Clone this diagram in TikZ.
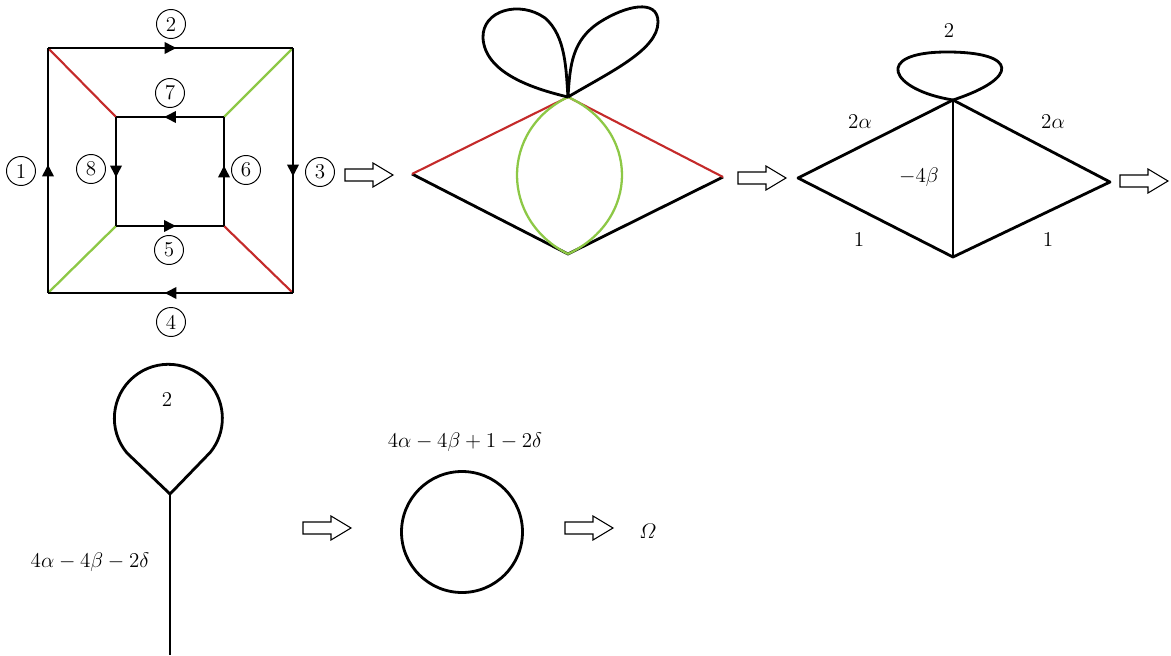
\documentclass[tikz,border=0pt]{standalone}
\usepackage{amsmath,amssymb}
\usepackage{xcolor}
\usetikzlibrary{arrows.meta, decorations.markings}

\definecolor{edgered}{RGB}{196,42,42}
\definecolor{edgegreen}{RGB}{141,200,70}

\tikzset{
  edge/.style={line width=1.6pt, line join=round},
  redge/.style={line width=1.2pt, edgered},
  gedge/.style={line width=1.3pt, edgegreen},
  midarrow/.style={postaction={decorate}, decoration={markings,
    mark=at position 0.5 with {\arrow[xshift=3.4pt]{Triangle[length=6.8pt,width=6.4pt]}}}},
  num/.style={circle, draw, line width=0.55pt, minimum size=16.5pt, inner sep=0pt, font=\large},
  lab/.style={font=\large},
  hollowarr/.pic={\draw[line width=0.6pt] (0,-6) -- (28,-6) -- (28,-12) -- (48,0) -- (28,12) -- (28,6) -- (0,6) -- cycle;}
}

\begin{document}
\begin{tikzpicture}[x=0.02cm, y=-0.02cm]
    \useasboundingbox (0,0) rectangle (1171,656);

    % Square with its inner square
    \coordinate (oTL) at (48,48);
    \coordinate (oTR) at (293,48);
    \coordinate (oBR) at (293,293);
    \coordinate (oBL) at (48,293);
    \coordinate (iTL) at (116,117);
    \coordinate (iTR) at (224,117);
    \coordinate (iBR) at (224,226);
    \coordinate (iBL) at (116,226);

    \draw[redge] (oTL) -- (iTL);
    \draw[redge] (oBR) -- (iBR);
    \draw[gedge] (oTR) -- (iTR);
    \draw[gedge] (oBL) -- (iBL);

    \draw[edge, midarrow] (oBL) -- (oTL);
    \draw[edge, midarrow] (oTL) -- (oTR);
    \draw[edge, midarrow] (oTR) -- (oBR);
    \draw[edge, midarrow] (oBR) -- (oBL);

    \draw[edge, midarrow] (iTR) -- (iTL);
    \draw[edge, midarrow] (iTL) -- (iBL);
    \draw[edge, midarrow] (iBL) -- (iBR);
    \draw[edge, midarrow] (iBR) -- (iTR);

    \node[num] (n1) at (21,171) {1};
    \node[num] (n2) at (171,24) {2};
    \node[num] (n3) at (320,172) {3};
    \node[num] (n4) at (171,322) {4};
    \node[num] (n5) at (169,250) {5};
    \node[num] (n6) at (246,170) {6};
    \node[num] (n7) at (170,93) {7};
    \node[num] (n8) at (91,169) {8};

    % Diamond with lens and two petals
    \coordinate (dL) at (412,174);
    \coordinate (dT) at (568,97);
    \coordinate (dR) at (723,177);
    \coordinate (dB) at (568,254);

    \draw[edge] (dL) -- (dB) -- (dR);
    \draw[redge] (dL) -- (dT) -- (dR);
    \draw[gedge] (dT) .. controls (500,130) and (500,220) .. (dB);
    \draw[gedge] (dT) .. controls (640,130) and (640,220) .. (dB);
    \draw[edge] (dT) .. controls (530,88) and (485,72) .. (483,38)
        .. controls (482,10) and (520,0) .. (545,18)
        .. controls (566,36) and (566,70) .. (dT);
    \draw[edge] (dT) .. controls (570,65) and (572,40) .. (600,22)
        .. controls (625,6) and (658,-2) .. (658,22)
        .. controls (658,50) and (610,72) .. (dT);

    % Diamond split in two, with one loop
    \coordinate (kL) at (798,178);
    \coordinate (kT) at (953,100);
    \coordinate (kR) at (1110,182);
    \coordinate (kB) at (953,257);

    \draw[edge] (kL) -- (kT) -- (kR) -- (kB) -- cycle;
    \draw[edge] (kT) -- (kB);
    \draw[edge] (kT) .. controls (890,90) and (872,52) .. (947,52)
        .. controls (1018,52) and (1020,78) .. (kT);

    \node[lab] (k2) at (949,31) {$2$};
    \node[lab] (ka) at (860,122) {$2\alpha$};
    \node[lab] (kb) at (1053,122) {$2\alpha$};
    \node[lab] (kc) at (919,177) {$-4\beta$};
    \node[lab] (kd) at (859,240) {$1$};
    \node[lab] (ke) at (1048,240) {$1$};

    % Lollipop
    \coordinate (pV) at (170,494);
    \coordinate (pE) at (170,655);
    \draw[edge] (pV) -- (pE);
    \draw[edge] (pV) -- (127,453) arc[start angle=140, end angle=399, radius=54] -- cycle;
    \node[lab] (p2) at (167,400) {$2$};
    \node[lab] (pl) at (90,562) {$4\alpha-4\beta-2\delta$};

    % Circle
    \draw[edge] (462,532) circle (60.5);
    \node[lab] (cl) at (465,442) {$4\alpha-4\beta+1-2\delta$};
    \node[lab] (om) at (648,531) {$\varOmega$};

    % Hollow arrows
    \pic at (345,175) {hollowarr};
    \pic at (738,178) {hollowarr};
    \pic at (1120,181) {hollowarr};
    \pic at (303,528) {hollowarr};
    \pic at (565,528) {hollowarr};
\end{tikzpicture}
\end{document}
